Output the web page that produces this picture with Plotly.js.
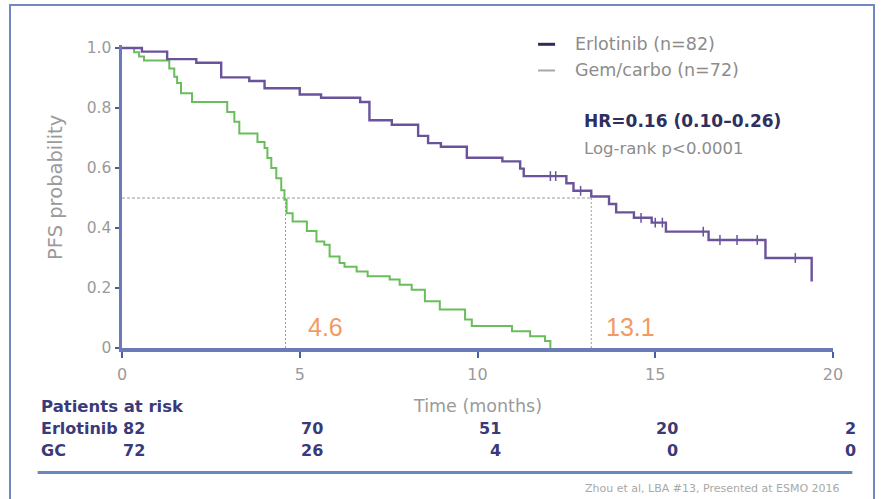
<!DOCTYPE html>
<html>
<head>
<meta charset="utf-8">
<script src="https://cdn.plot.ly/plotly-3.0.1.min.js"></script>
<style>
html,body{margin:0;padding:0;background:#fff;}
#wrap{position:relative;width:885px;height:499px;overflow:hidden;}
#chart{position:absolute;left:0;top:0;width:885px;height:499px;}
#frame{position:absolute;left:9px;top:4px;width:862px;height:600px;border:2.5px solid #7087c0;border-bottom:none;pointer-events:none;}
</style>
</head>
<body>
<div id="wrap"><div id="chart"></div><div id="frame"></div></div>
<script>
// Kaplan-Meier step data
const erlT = [0, 0.56, 1.27, 2.09, 2.79, 3.58, 4.01, 5.0, 5.6, 6.7, 6.96, 7.59, 8.33, 8.61, 8.97, 9.7, 10.7, 11.2, 11.3, 12.5, 12.7, 13.2, 13.7, 13.9, 14.4, 14.9, 15.3, 16.5, 18.1, 19.4];
const erlS = [1.0, 0.988, 0.963, 0.951, 0.902, 0.890, 0.866, 0.845, 0.834, 0.820, 0.759, 0.744, 0.707, 0.683, 0.671, 0.634, 0.622, 0.598, 0.573, 0.549, 0.524, 0.505, 0.48, 0.452, 0.434, 0.418, 0.388, 0.36, 0.30, 0.222];
const erlCensT = [12.05, 12.2, 12.9, 14.6, 15.0, 15.2, 16.35, 16.82, 17.3, 17.87, 18.94];
const erlCensS = [0.573, 0.573, 0.524, 0.434, 0.418, 0.418, 0.388, 0.36, 0.36, 0.36, 0.30];

const gcT = [0, 0.34, 0.48, 0.62, 1.33, 1.47, 1.55, 1.66, 1.97, 2.96, 3.16, 3.30, 3.81, 4.01, 4.09, 4.20, 4.34, 4.48, 4.57, 4.63, 4.80, 5.2, 5.47, 5.69, 5.84, 6.12, 6.26, 6.60, 6.91, 7.53, 7.81, 8.15, 8.52, 8.94, 9.65, 9.84, 10.97, 11.48, 11.9, 12.05];
const gcS = [1.0, 0.986, 0.972, 0.958, 0.932, 0.904, 0.883, 0.849, 0.820, 0.787, 0.754, 0.715, 0.687, 0.667, 0.633, 0.600, 0.566, 0.526, 0.494, 0.449, 0.422, 0.39, 0.355, 0.344, 0.305, 0.283, 0.271, 0.255, 0.239, 0.228, 0.211, 0.194, 0.156, 0.128, 0.095, 0.073, 0.056, 0.039, 0.023, 0.0];

const seriesNames = ['Erlotinib (n=82)', 'Gem/carbo (n=72)'];
const medianX = [4.6, 13.2];
const medianLabels = ['4.6', '13.1'];
const medianLevel = 0.5;

const xTicks = [0, 5, 10, 15, 20];
const yTicks = [0, 0.2, 0.4, 0.6, 0.8, 1.0];
const yTickText = ['0', '0.2', '0.4', '0.6', '0.8', '1.0'];

const riskTimes = [0, 5, 10, 15, 20];
const riskRowNames = ['Erlotinib', 'GC'];
const erlRisk = [82, 70, 51, 20, 2];
const gcRisk = [72, 26, 4, 0, 0];

const statHR = 'HR=0.16 (0.10–0.26)';
const statP = 'Log-rank p<0.0001';
const footnote = 'Zhou et al, LBA #13, Presented at ESMO 2016';

// ---- styling ----
const PURPLE = '#6a539b', GREEN = '#6abd5b', NAVY = '#3a3a78', AXIS = '#6b7bb7', GRAY = '#9a9a9a', ORANGE = '#f29a63';
const FONT = 'DejaVu Sans, Arial, sans-serif';

const L = 122.3, R = 832.7, T0 = 47.7, B0 = 348.5; // pixel frame for x 0..20, y 0..1
const px2x = p => (p - L) / (R - L);
const py2y = p => (B0 - p) / (B0 - T0);

const traces = [
  {x: gcT, y: gcS, mode: 'lines', line: {shape: 'hv', color: GREEN, width: 2}, name: seriesNames[1], showlegend: false, hoverinfo: 'skip'},
  {x: erlT, y: erlS, mode: 'lines', line: {shape: 'hv', color: PURPLE, width: 2.4}, name: seriesNames[0], showlegend: false, hoverinfo: 'skip'},
  {x: erlCensT, y: erlCensS, mode: 'markers', marker: {symbol: 'line-ns', size: 7, line: {width: 1.5, color: PURPLE}}, showlegend: false, hoverinfo: 'skip'}
];

const shapes = [];
// median guide lines
shapes.push({type: 'line', xref: 'x', yref: 'y', x0: 0, x1: medianX[1], y0: medianLevel, y1: medianLevel, line: {color: '#9a9a9a', width: 1, dash: '3px,2px'}, layer: 'below'});
medianX.forEach(m => shapes.push({type: 'line', xref: 'x', yref: 'y', x0: m, x1: m, y0: 0, y1: medianLevel, line: {color: '#9a9a9a', width: 1, dash: '2px,2px'}, layer: 'below'}));
// legend samples
shapes.push({type: 'line', xref: 'paper', yref: 'paper', x0: px2x(538), x1: px2x(555), y0: py2y(47), y1: py2y(47), line: {color: '#2e2c5c', width: 3}});
shapes.push({type: 'line', xref: 'paper', yref: 'paper', x0: px2x(538), x1: px2x(555), y0: py2y(73), y1: py2y(73), line: {color: '#a8a8a8', width: 2}});
// separator under risk table
shapes.push({type: 'line', xref: 'paper', yref: 'paper', x0: px2x(38), x1: px2x(852), y0: py2y(472), y1: py2y(472), line: {color: '#6a88c0', width: 3}});

const ann = [];
ann.push({xref: 'paper', yref: 'paper', x: px2x(573), y: py2y(47), xanchor: 'left', yanchor: 'middle', text: seriesNames[0], showarrow: false, font: {family: FONT, size: 17.5, color: '#8c8c8c'}});
ann.push({xref: 'paper', yref: 'paper', x: px2x(573), y: py2y(73), xanchor: 'left', yanchor: 'middle', text: seriesNames[1], showarrow: false, font: {family: FONT, size: 17.5, color: '#8c8c8c'}});
ann.push({xref: 'paper', yref: 'paper', x: px2x(582), y: py2y(123), xanchor: 'left', yanchor: 'middle', text: '<b>' + statHR + '</b>', showarrow: false, font: {family: FONT, size: 17, color: '#2e2f5f'}});
ann.push({xref: 'paper', yref: 'paper', x: px2x(582), y: py2y(150), xanchor: 'left', yanchor: 'middle', text: statP, showarrow: false, font: {family: FONT, size: 16.5, color: '#8c8c8c'}});
// median labels
const medShift = [20, 13];
medianX.forEach((m, i) => ann.push({xref: 'x', yref: 'paper', x: m, xshift: medShift[i], y: py2y(328), xanchor: 'left', yanchor: 'middle', text: medianLabels[i], showarrow: false, font: {family: 'Liberation Sans, Arial, sans-serif', size: 25, color: ORANGE}}));
// axis titles
ann.push({xref: 'x', yref: 'paper', x: 10, y: py2y(406), xanchor: 'center', yanchor: 'middle', text: 'Time (months)', showarrow: false, font: {family: FONT, size: 17.5, color: GRAY}});
ann.push({xref: 'paper', yref: 'paper', x: px2x(56), y: py2y(189), xanchor: 'center', yanchor: 'middle', textangle: -90, text: 'PFS probability', showarrow: false, font: {family: FONT, size: 19.5, color: GRAY}});
// risk table
ann.push({xref: 'paper', yref: 'paper', x: px2x(39), y: py2y(407), xanchor: 'left', yanchor: 'middle', text: '<b>Patients at risk</b>', showarrow: false, font: {family: FONT, size: 16.5, color: NAVY}});
const rowY = [428, 450];
const rowVals = [erlRisk, gcRisk];
riskRowNames.forEach((nm, r) => {
  ann.push({xref: 'paper', yref: 'paper', x: px2x(39), y: py2y(rowY[r]), xanchor: 'left', yanchor: 'middle', text: '<b>' + nm + '</b>', showarrow: false, font: {family: FONT, size: 16, color: NAVY}});
  riskTimes.forEach((t, i) => ann.push({xref: 'x', yref: 'paper', x: t, xshift: 25, y: py2y(rowY[r]), xanchor: 'right', yanchor: 'middle', text: '<b>' + rowVals[r][i] + '</b>', showarrow: false, font: {family: FONT, size: 16, color: NAVY}}));
});
ann.push({xref: 'paper', yref: 'paper', x: px2x(842), y: py2y(488), xanchor: 'right', yanchor: 'middle', text: footnote, showarrow: false, font: {family: FONT, size: 11, color: '#a8a8a8'}});

const layout = {
  width: 885, height: 499,
  margin: {l: L, r: 885 - R, t: T0 - 3.0, b: 499 - B0, pad: 0},
  paper_bgcolor: '#ffffff', plot_bgcolor: '#ffffff',
  showlegend: false,
  xaxis: {range: [0, 20], tickvals: xTicks, showgrid: false, zeroline: false, showline: true, linecolor: AXIS, linewidth: 3.5,
          ticks: 'outside', ticklen: 6, tickwidth: 2, tickcolor: '#4f5d9d', ticklabelstandoff: 3, tickfont: {family: FONT, size: 16, color: GRAY}, fixedrange: true},
  yaxis: {range: [0, 1.01], tickvals: yTicks, ticktext: yTickText, showgrid: false, zeroline: false, showline: true, linecolor: AXIS, linewidth: 3.5,
          ticks: 'outside', ticklen: 4, tickwidth: 1.5, tickcolor: '#4f5d9d', tickfont: {family: FONT, size: 15.5, color: GRAY}, fixedrange: true},
  shapes: shapes,
  annotations: ann
};

Plotly.newPlot('chart', traces, layout, {displayModeBar: false, staticPlot: true});
</script>
</body>
</html>
